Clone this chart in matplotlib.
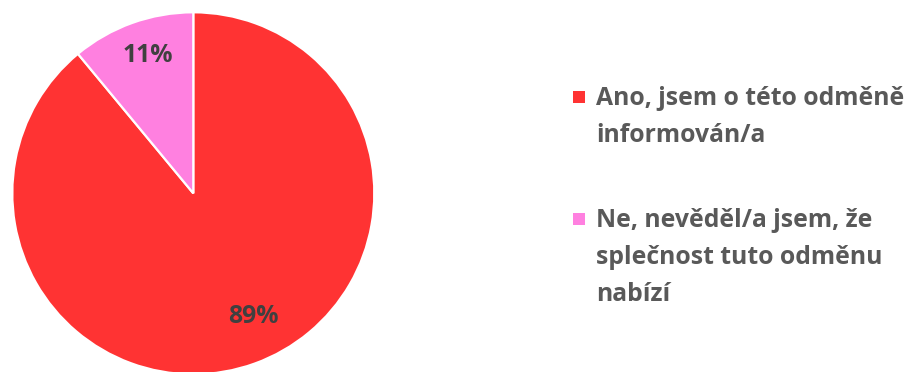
import matplotlib
matplotlib.use("Agg")
import matplotlib.pyplot as plt
from matplotlib.patches import Rectangle

# Survey answers and their shares (%)
labels = [
    "Ano, jsem o této odměně\ninformován/a",
    "Ne, nevěděl/a jsem, že\nsplečnost tuto odměnu\nnabízí",
]
shares = [89, 11]
colors = ["#FF3333", "#FF80E0"]

FONT = "Open Sans"
TEXT_GRAY = "#595959"
LABEL_GRAY = "#404040"

fig = plt.figure(figsize=(9.08, 3.72), dpi=100)
W, H = 908, 372

# Pie axes, centred at (193, 193) px from top-left with radius 181 px
cx, cy, r = 193.3, 193.3, 181.0
ax = fig.add_axes([(cx - r) / W, (H - cy - r) / H, 2 * r / W, 2 * r / H])
wedges, _, autotexts = ax.pie(
    shares,
    colors=colors,
    startangle=90,
    counterclock=False,
    radius=1.0,
    autopct="%d%%",
    pctdistance=0.78,
    wedgeprops=dict(edgecolor="white", linewidth=1.6),
    textprops=dict(fontsize=17.8, fontweight="bold", color=LABEL_GRAY, family=FONT),
)
for w in wedges:
    w.set_clip_on(False)
ax.set_xlim(-1, 1)
ax.set_ylim(-1, 1)
ax.set_aspect("equal")
ax.axis("off")

# Label placement inside the slices
autotexts[0].set_position((0.33, -0.68))
autotexts[1].set_position((-0.25, 0.76))

# Legend drawn beside the pie: marker aligned with the first text line
marker_x = 573
text_x = 596
first_baselines = [105.0, 227.3]
line_step = 36.7
for lab, col, y0 in zip(labels, colors, first_baselines):
    fig.patches.append(
        Rectangle((marker_x / W, (H - y0 + 2.5) / H), 12 / W, 12 / H,
                  transform=fig.transFigure, facecolor=col, edgecolor="none")
    )
    for i, line in enumerate(lab.split("\n")):
        fig.text(text_x / W, (H - y0 - i * line_step) / H, line,
                 ha="left", va="baseline", fontsize=17.8, fontweight="bold",
                 color=TEXT_GRAY, family=FONT)

fig.savefig("out.png", dpi=100)
